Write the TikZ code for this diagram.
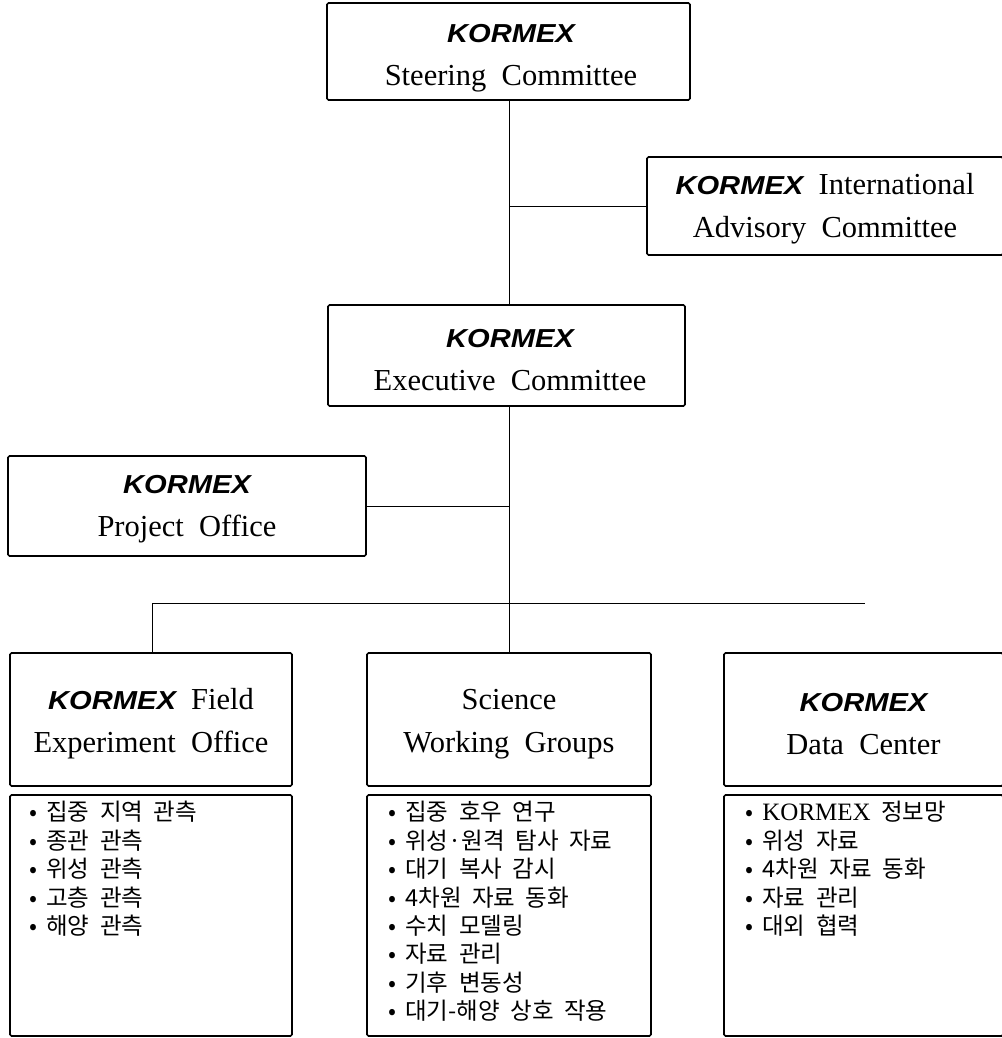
\documentclass[tikz,border=0pt]{standalone}
\usepackage{fontspec}
\usetikzlibrary{calc}
\setmainfont{Liberation Serif}
\newfontfamily\korf[WordSpace=2]{Noto Sans CJK KR}
\newfontfamily\helf[FakeStretch=1.12]{Liberation Sans}
\newcommand\KX{{\fontsize{26}{43}\helf\bfseries\itshape KORMEX}}
\newcommand\wsp{\hspace{0.5em}}
\newcommand\bul{•\hspace{9pt}}
\begin{document}
\begin{tikzpicture}[x=1pt,y=-1pt,
  box/.style={draw, line width=1.6pt, rounded corners=1.5pt, inner sep=0pt},
  conn/.style={line width=0.8pt},
  title/.style={font=\fontsize{30.5}{43}\selectfont, align=center, inner sep=0pt},
  item/.style={font=\korf\fontsize{23.5}{28.4}\selectfont, align=left, anchor=north west, inner sep=0pt}]
\useasboundingbox (0,0) rectangle (1001,1038);

% boxes
\node[box, minimum width=363pt, minimum height=97pt] (steer) at (508.5,51.5) {};
\node[title] (steerT) at (511,58) {\KX\\Steering\wsp Committee};

\node[box, minimum width=356pt, minimum height=98pt] (intl) at (825,206) {};
\node[title] (intlT) at (825,209) {\KX\wsp International\\Advisory\wsp Committee};

\node[box, minimum width=357pt, minimum height=101pt] (exec) at (506.5,355.5) {};
\node[title] (execT) at (510,360) {\KX\\Executive\wsp Committee};

\node[box, minimum width=358pt, minimum height=100pt] (proj) at (187,506) {};
\node[title] (projT) at (187,509) {\KX\\Project\wsp Office};

\node[box, minimum width=282pt, minimum height=133pt] (field) at (151,719.5) {};
\node[title] (fieldT) at (151,724) {\KX\wsp Field\\Experiment\wsp Office};
\node[box, minimum width=282pt, minimum height=241pt] (fieldL) at (151,915.5) {};
\node[item] (fieldI) at ($(fieldL.north west)+(20,7)$) {\bul 집중 지역 관측\\\bul 종관 관측\\\bul 위성 관측\\\bul 고층 관측\\\bul 해양 관측};

\node[box, minimum width=284pt, minimum height=133pt] (sci) at (509,719.5) {};
\node[title] (sciT) at (509,724) {Science\\Working\wsp Groups};
\node[box, minimum width=284pt, minimum height=241pt] (sciL) at (509,915.5) {};
\node[item] (sciI) at ($(sciL.north west)+(22,7)$) {\bul 집중 호우 연구\\\bul 위성·원격 탐사 자료\\\bul 대기 복사 감시\\\bul 4차원 자료 동화\\\bul 수치 모델링\\\bul 자료 관리\\\bul 기후 변동성\\\bul 대기-해양 상호 작용};

\node[box, minimum width=279pt, minimum height=133pt] (data) at (863.5,719.5) {};
\node[title] (dataT) at (863.5,724) {\KX\\Data\wsp Center};
\node[box, minimum width=279pt, minimum height=241pt] (dataL) at (863.5,915.5) {};
\node[item] (dataI) at ($(dataL.north west)+(22,7)$) {\bul {\rmfamily\fontsize{25}{28.4}\selectfont KORMEX} 정보망\\\bul 위성 자료\\\bul 4차원 자료 동화\\\bul 자료 관리\\\bul 대외 협력};

% connectors
\coordinate (spine) at (509,0);
\coordinate (busL) at (152,603);
\coordinate (busR) at (865,603);
\draw[conn] (steer.south -| spine) -- (exec.north -| spine);
\draw[conn] (intl.west) -- (intl.west -| spine);
\draw[conn] (proj.east) -- (proj.east -| spine);
\draw[conn] (exec.south -| spine) -- (sci.north -| spine);
\draw[conn] (busL) -- (busR);
\draw[conn] (busL) -- (busL |- field.north);
\end{tikzpicture}
\end{document}
